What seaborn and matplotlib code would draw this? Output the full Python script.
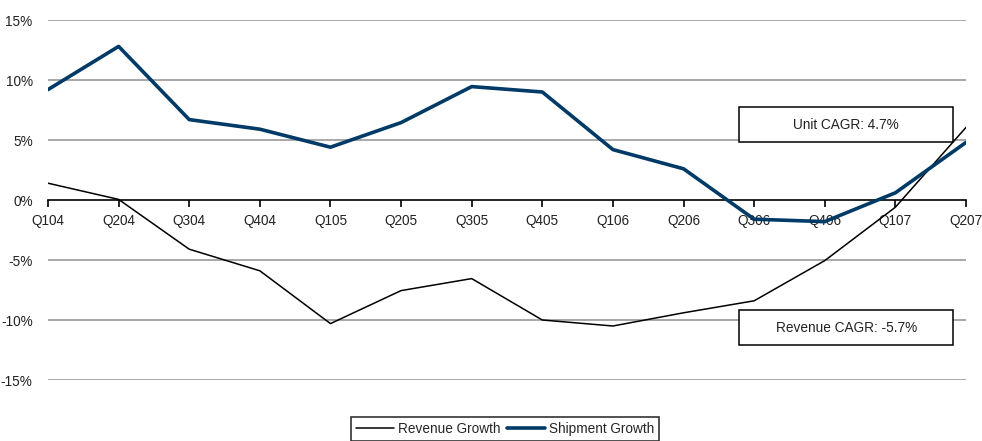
import matplotlib
matplotlib.use("Agg")
import matplotlib.pyplot as plt
from matplotlib.patches import Rectangle
import seaborn as sns
import pandas as pd

quarters = ["Q104", "Q204", "Q304", "Q404", "Q105", "Q205", "Q305", "Q405",
            "Q106", "Q206", "Q306", "Q406", "Q107", "Q207"]
revenue_growth = [1.4, 0.05, -4.1, -5.9, -10.3, -7.55, -6.55, -10.0,
                  -10.5, -9.4, -8.4, -5.05, -0.6, 6.05]
shipment_growth = [9.2, 12.8, 6.7, 5.9, 4.4, 6.45, 9.45, 9.0,
                   4.2, 2.6, -1.6, -1.8, 0.6, 4.8]
y_ticks = [-15, -10, -5, 0, 5, 10, 15]
unit_cagr_label = "Unit CAGR: 4.7%"
revenue_cagr_label = "Revenue CAGR: -5.7%"

sns.set_theme(style="white")
plt.rcParams["font.family"] = ["Liberation Sans", "DejaVu Sans"]
FS = 9.8

df = pd.DataFrame({
    "idx": list(range(len(quarters))) * 2,
    "value": revenue_growth + shipment_growth,
    "series": ["Revenue Growth"] * len(quarters) + ["Shipment Growth"] * len(quarters),
})

fig = plt.figure(figsize=(9.82, 4.41), dpi=100)
ax = fig.add_axes([48 / 982, (441 - 380) / 441, 918 / 982, 360 / 441])

for y in y_ticks:
    if y != 0:
        ax.axhline(y, color="#999999", lw=1.2, zorder=0)

sns.lineplot(data=df, x="idx", y="value", hue="series", size="series",
             palette={"Revenue Growth": "#000000", "Shipment Growth": "#003A66"},
             sizes={"Revenue Growth": 1.1, "Shipment Growth": 2.6},
             ax=ax, legend=False, zorder=3)

ax.set_xlim(0, len(quarters) - 1)
ax.set_ylim(-15, 15)
ax.set_yticks(y_ticks)
ax.set_yticklabels([f"{v}%" for v in y_ticks])
ax.set_xticks(range(len(quarters)))
ax.set_xticklabels(quarters)
ax.set_xlabel("")
ax.set_ylabel("")

for s in ["top", "right", "left"]:
    ax.spines[s].set_visible(False)
ax.spines["bottom"].set_position(("data", 0))
ax.spines["bottom"].set_color("black")
ax.spines["bottom"].set_linewidth(1.2)
ax.spines["bottom"].set_zorder(2)
ax.tick_params(axis="x", direction="out", length=5, width=1.2, color="black", pad=5,
               bottom=True, labelsize=FS, labelcolor="#222222")
ax.tick_params(axis="y", length=0, pad=11, labelsize=FS, labelcolor="#222222")

# CAGR callout boxes
for (y0, label) in [(0.661, unit_cagr_label), (0.097, revenue_cagr_label)]:
    ax.add_patch(Rectangle((0.753, y0), 0.233, 0.097, transform=ax.transAxes,
                           facecolor="white", edgecolor="black", lw=1.1,
                           zorder=2, clip_on=False))
    ax.text(0.753 + 0.233 / 2, y0 + 0.097 / 2, label, transform=ax.transAxes,
            ha="center", va="center", fontsize=FS, color="#222222", zorder=5)

handles = [plt.Line2D([], [], color="#000000", lw=1.1),
           plt.Line2D([], [], color="#003A66", lw=2.6)]
leg = fig.legend(handles, ["Revenue Growth", "Shipment Growth"], loc="upper center",
                 bbox_to_anchor=(505 / 982, (441 - 417) / 441), ncol=2, frameon=True,
                 fontsize=FS, handlelength=2.8, handletextpad=0.3, columnspacing=0.5,
                 borderpad=0.35, fancybox=False, borderaxespad=0)
leg.get_frame().set_edgecolor("black")
leg.get_frame().set_linewidth(1.2)

fig.savefig("out.png", dpi=100)
